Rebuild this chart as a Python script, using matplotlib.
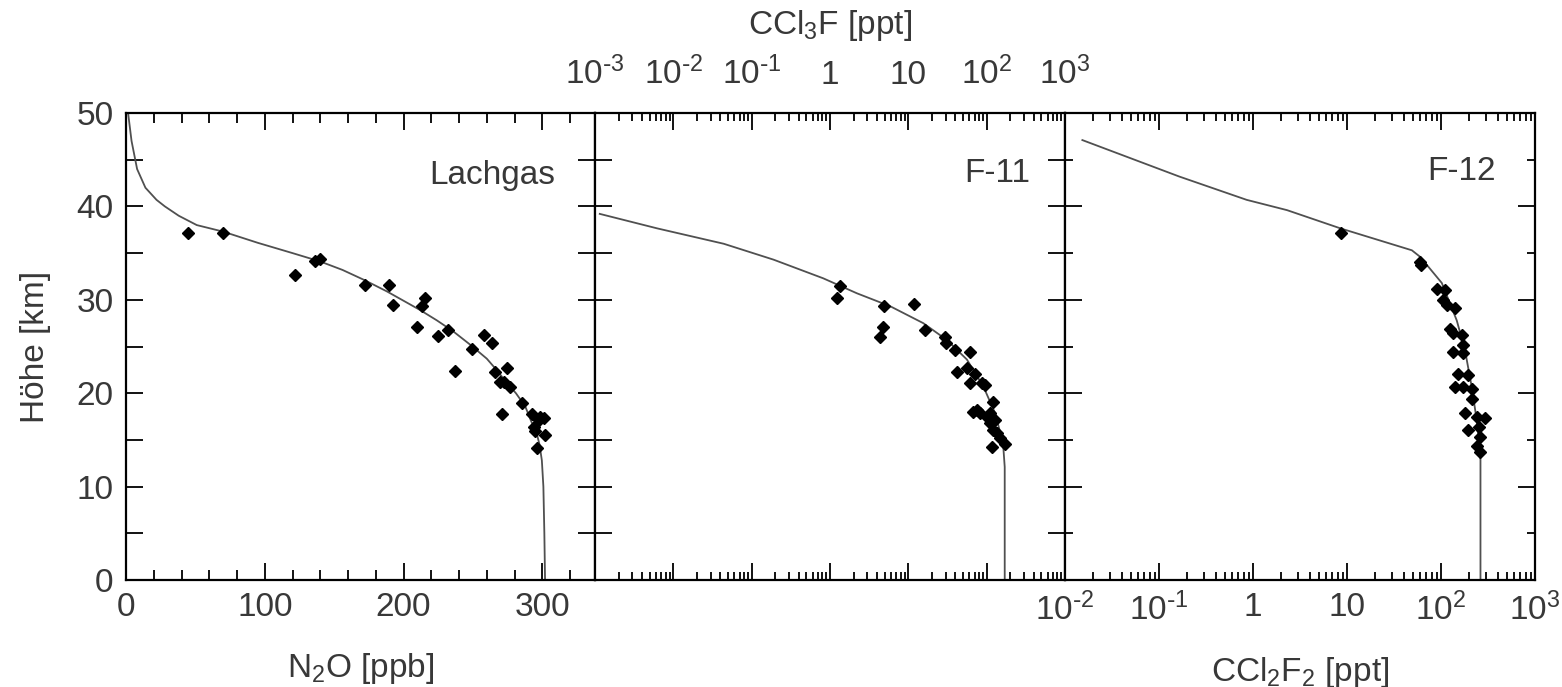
import numpy as np
import matplotlib
matplotlib.use("Agg")
import matplotlib.pyplot as plt
from matplotlib.ticker import MultipleLocator, FixedLocator, FixedFormatter, LogLocator, NullFormatter

plt.rcParams['font.family'] = ['Liberation Sans', 'DejaVu Sans']
plt.rcParams['mathtext.default'] = 'regular'

# ===================== Daten =====================
# Lachgas, N2O [ppb]
n2o_curve_x = [302, 301.5, 300.8, 299.7, 298, 296, 292, 287.7, 281, 274.5, 267, 260,
               248, 236, 224, 212, 200, 188, 172, 156, 140, 120, 95, 70, 51, 38, 28,
               22, 14, 8, 4, 1.5]
n2o_curve_alt = [0, 5, 10, 12.8, 14.5, 15.7, 17, 18.6, 20, 21.1, 22.5, 23.7,
                 25.2, 26.6, 27.8, 28.9, 29.9, 30.9, 32.1, 33.2, 34.1, 35.0, 36.1, 37.3, 38.0, 39.0, 40.0,
                 40.7, 42.0, 44.0, 47.0, 50.0]
n2o_obs_x = [44.9, 70.2, 121.8, 136.3, 139.9, 172.3, 189.8, 192.7, 209.6, 213.2, 215.6,
             225.2, 232.4, 237.2, 249.2, 258.1, 264.1, 266.0, 270.9, 272.1, 274.5, 276.9,
             285.3, 292.5, 293.7, 296.1, 297.3, 300.9, 302.1, 295.0, 298.5, 269.7]
n2o_obs_alt = [37.2, 37.1, 32.7, 34.2, 34.4, 31.6, 31.6, 29.4, 27.1, 29.3, 30.2,
               26.1, 26.8, 22.4, 24.7, 26.2, 25.4, 22.3, 17.8, 21.2, 22.7, 20.7,
               19.0, 17.8, 16.4, 14.1, 17.1, 17.3, 15.5, 16.0, 17.5, 21.2]

# F-11, CCl3F [ppt]
f11_curve_x = [0.00115, 0.0062, 0.044, 0.19, 0.82, 2.2, 5.9, 15.5, 31, 56, 91, 129, 162, 170, 170]
f11_curve_alt = [39.2, 37.65, 36.0, 34.3, 32.3, 30.7, 29.3, 27.5, 25.7, 23.6, 20.7, 17.8, 14.6, 12.1, 0]
f11_obs_x = [1.34, 1.22, 4.9, 4.8, 4.4, 11.8, 16.3, 29.4, 30.3, 39.4, 61, 41.4, 55.6, 71,
             61, 86.5, 95, 122, 67.6, 82, 100, 110, 122, 134, 148, 171, 118, 110, 128, 74.6]
f11_obs_alt = [31.5, 30.2, 29.3, 27.1, 26.05, 29.55, 26.8, 26.05, 25.4, 24.6, 24.4, 22.3, 22.7, 22.1,
               21.1, 21.1, 20.9, 19.1, 18.0, 17.85, 17.5, 16.8, 16.1, 15.7, 15.2, 14.6, 14.2, 17.85, 17.1, 18.2]

# F-12, CCl2F2 [ppt]
f12_curve_x = [0.0153, 0.164, 0.857, 2.3, 8.5, 49, 60, 102, 147, 180, 212, 240, 256, 263, 263]
f12_curve_alt = [47.1, 43.2, 40.7, 39.6, 37.65, 35.3, 34.6, 31.8, 27.8, 24.6, 20.7, 17.1, 14.3, 12.85, 0]
f12_obs_x = [8.6, 60, 62, 90, 110, 106, 115, 141, 125, 135, 166, 170, 135, 173, 153, 195,
             141, 173, 212, 180, 240, 294, 195, 251, 260, 240, 263, 212]
f12_obs_alt = [37.1, 34.1, 33.7, 31.2, 31.0, 30.0, 29.4, 29.1, 26.9, 26.4, 26.2, 25.2, 24.4, 24.3, 22.1, 21.9,
               20.7, 20.7, 20.5, 17.85, 17.5, 17.3, 16.1, 16.4, 15.3, 14.3, 13.7, 19.4]

log_ticks = [1e-3, 1e-2, 1e-1, 1, 10, 1e2, 1e3]
log_labels = [r'$10^{\text{-}3}$', r'$10^{\text{-}2}$', r'$10^{\text{-}1}$', '1', '10',
              '$10^{2}$', '$10^{3}$']

# ===================== Abbildung =====================
TXT = '#383838'
FS = 24
line_kw = dict(color='#505050', lw=1.3, zorder=2)
obs_kw = dict(ls='none', marker='D', ms=6.5, color='black', zorder=3)

fig = plt.figure(figsize=(15.62, 6.87), dpi=100)
W, H = 1562, 687
x0, x1, x2, x3 = 126, 595, 1065, 1535
top, bot = 113, 580


def make_ax(a, b):
    return fig.add_axes([a / W, 1 - bot / H, (b - a) / W, (bot - top) / H])


ax1 = make_ax(x0, x1)
ax2 = make_ax(x1, x2)
ax3 = make_ax(x2, x3)

for ax in (ax1, ax2, ax3):
    ax.set_ylim(0, 50)
    for s in ax.spines.values():
        s.set_linewidth(1.6)
    ax.tick_params(which='both', direction='in', top=True, right=True,
                   labelsize=FS, labelcolor=TXT, width=1.3)
    ax.tick_params(which='major', length=12, pad=9)
    ax.tick_params(axis='x', which='minor', length=6)
    ax.yaxis.set_major_locator(MultipleLocator(10))
    ax.yaxis.set_minor_locator(MultipleLocator(5))

# y-Striche: links alle gleich lang, rechts Haupt/Neben
ax1.tick_params(axis='y', which='minor', length=12)
ax2.tick_params(axis='y', which='minor', length=12)
ax3.tick_params(axis='y', which='minor', length=6)
ax2.tick_params(axis='y', labelleft=False)
ax3.tick_params(axis='y', labelleft=False)

# Lachgas
ax1.plot(n2o_curve_x, n2o_curve_alt, **line_kw)
ax1.plot(n2o_obs_x, n2o_obs_alt, **obs_kw)
ax1.set_xlim(0, 338)
ax1.xaxis.set_major_locator(MultipleLocator(100))
ax1.xaxis.set_minor_locator(MultipleLocator(20))
ax1.tick_params(axis='x', which='minor', length=7)
ax1.set_xlabel('N$_2$O [ppb]', fontsize=FS, color=TXT, labelpad=20)
ax1.set_ylabel('Höhe [km]', fontsize=FS, color=TXT, labelpad=18)
ax1.text(0.915, 42.4, 'Lachgas', transform=ax1.get_yaxis_transform(),
         ha='right', va='baseline', fontsize=FS, color=TXT)

# F-11
ax2.set_xscale('log')
ax2.plot(f11_curve_x, f11_curve_alt, **line_kw)
ax2.plot(f11_obs_x, f11_obs_alt, **obs_kw)
ax2.set_xlim(1e-3, 1e3)
ax2.xaxis.set_major_locator(FixedLocator(log_ticks))
ax2.xaxis.set_major_formatter(FixedFormatter(log_labels))
ax2.xaxis.set_minor_locator(LogLocator(base=10, subs=np.arange(2, 10), numticks=20))
ax2.xaxis.set_minor_formatter(NullFormatter())
ax2.tick_params(axis='x', labeltop=True, labelbottom=False)
ax2.tick_params(axis='x', which='major', pad=16)
ax2.xaxis.set_label_position('top')
ax2.set_xlabel('CCl$_3$F [ppt]', fontsize=FS, color=TXT, labelpad=16)
ax2.text(0.926, 42.6, 'F-11', transform=ax2.get_yaxis_transform(),
         ha='right', va='baseline', fontsize=FS, color=TXT)

# F-12
ax3.set_xscale('log')
ax3.plot(f12_curve_x, f12_curve_alt, **line_kw)
ax3.plot(f12_obs_x, f12_obs_alt, **obs_kw)
ax3.set_xlim(1e-2, 1e3)
ax3.xaxis.set_major_locator(FixedLocator(log_ticks[1:]))
ax3.xaxis.set_major_formatter(FixedFormatter(log_labels[1:]))
ax3.xaxis.set_minor_locator(LogLocator(base=10, subs=np.arange(2, 10), numticks=20))
ax3.xaxis.set_minor_formatter(NullFormatter())
ax3.set_xlabel('CCl$_2$F$_2$ [ppt]', fontsize=FS, color=TXT, labelpad=20)
ax3.text(0.917, 42.8, 'F-12', transform=ax3.get_yaxis_transform(),
         ha='right', va='baseline', fontsize=FS, color=TXT)

fig.savefig('out.png', dpi=100)
